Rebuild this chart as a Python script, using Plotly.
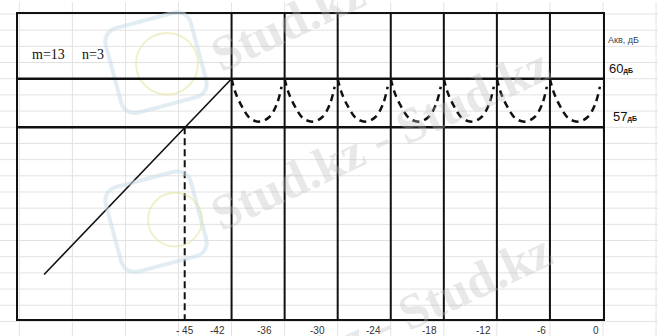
import math
import plotly.graph_objects as go

# ---------------- data ----------------
x_ticks = [-45, -42, -36, -30, -24, -18, -12, -6, 0]
x_tick_text = ["- 45", "-42", "-36", "-30", "-24", "-18", "-12", "-6", "0"]
x_tick_pos = [-47.3, -42, -36, -30, -24, -18, -12, -6, 0]   # where each label sits on the axis
band_lines = [-42, -36, -30, -24, -18, -12, -6]               # vertical sections
level_top = 60
level_bottom = 57
ramp_x = [-63.2, -42]
ramp_y = [47.9, 60]
marker_x = -47.3
arc_offsets = [0, 0.4, 1.15, 2.1, 3.2, 4.3, 5.1, 5.65]
arc_levels = [60, 59.2, 58.3, 57.55, 57.35, 57.65, 58.4, 59.5]
params_text = ["m=13", "n=3"]
axis_title = "Акв, дБ"

X_RANGE = [-66.15, 0]
Y_RANGE = [45.15, 64.0]
L, R, T, B = 18, 55, 12, 17
W, H = 658, 336
PW, PH = W - L - R, H - T - B


def px_x(p):
    return (p - L) / PW


def px_y(p):
    return (H - B - p) / PH


def dx(v):
    return (v - X_RANGE[0]) / (X_RANGE[1] - X_RANGE[0])


def dy(v):
    return (v - Y_RANGE[0]) / (Y_RANGE[1] - Y_RANGE[0])


def rounded_square_path(cx, cy, half, rad, angle_deg):
    pts = []
    corners = [(half - rad, half - rad, 0), (-(half - rad), half - rad, 90),
               (-(half - rad), -(half - rad), 180), (half - rad, -(half - rad), 270)]
    for ccx, ccy, a0 in corners:
        for k in range(7):
            a = math.radians(a0 + k * 15)
            pts.append((ccx + rad * math.cos(a), ccy + rad * math.sin(a)))
    t = math.radians(angle_deg)
    out = []
    for x, y in pts:
        rx = cx + x * math.cos(t) - y * math.sin(t)
        ry = cy + x * math.sin(t) + y * math.cos(t)
        out.append(f"{px_x(rx):.5f},{px_y(ry):.5f}")
    return "M " + " L ".join(out) + " Z"


fig = go.Figure()

# ramp
fig.add_trace(go.Scatter(x=ramp_x, y=ramp_y, mode="lines",
                         line=dict(color="#111", width=1.6), hoverinfo="skip"))

# arcs between vertical lines
ax, ay = [], []
for s in band_lines:
    for o, v in zip(arc_offsets, arc_levels):
        ax.append(s + o)
        ay.append(v)
    ax.append(None)
    ay.append(None)
fig.add_trace(go.Scatter(x=ax, y=ay, mode="lines", connectgaps=False,
                         line=dict(color="#111", width=2.5, dash="7px,5px", shape="spline", smoothing=1.0),
                         hoverinfo="skip"))

# dashed marker line
fig.add_trace(go.Scatter(x=[marker_x, marker_x], y=[level_bottom, Y_RANGE[0]], mode="lines",
                         line=dict(color="#111", width=2, dash="7px,4px"), hoverinfo="skip"))

shapes = []
# faint spreadsheet grid (full image)
for v in range(44, 66):
    shapes.append(dict(type="line", xref="paper", yref="paper", x0=px_x(0), x1=px_x(W),
                       y0=dy(v), y1=dy(v), line=dict(color="#e2e2e2", width=1), layer="below"))
for v in range(-72, 12, 6):
    shapes.append(dict(type="line", xref="paper", yref="paper", x0=dx(v), x1=dx(v),
                       y0=px_y(H), y1=px_y(0), line=dict(color="#e2e2e2", width=1), layer="below"))

# faint logo watermarks
for (scx, scy), (ccx, ccy, cr) in [((156, 61), (167, 62, 31)), ((156, 221), (175, 219, 27))]:
    shapes.append(dict(type="path", xref="paper", yref="paper",
                       path=rounded_square_path(scx, scy, 44, 14, -15),
                       line=dict(color="rgba(200,222,232,0.55)", width=4), layer="above"))
    shapes.append(dict(type="circle", xref="paper", yref="paper",
                       x0=px_x(ccx - cr), x1=px_x(ccx + cr), y0=px_y(ccy + cr), y1=px_y(ccy - cr),
                       line=dict(color="rgba(225,228,150,0.5)", width=2), layer="above"))

# vertical section lines
for v in band_lines:
    shapes.append(dict(type="line", xref="x", yref="paper", x0=v, x1=v, y0=0, y1=1,
                       line=dict(color="#111", width=2)))
# horizontal levels
for v in (level_top, level_bottom):
    shapes.append(dict(type="line", xref="paper", yref="y", x0=0, x1=1, y0=v, y1=v,
                       line=dict(color="#111", width=2.5)))

annotations = []
# tick labels
shifts = [0, -5, -11, -11, -8, -5, -4, -2, -2]
for i, (p, t) in enumerate(zip(x_tick_pos, x_tick_text)):
    annotations.append(dict(x=p, y=0, xref="x", yref="paper", text=t, showarrow=False,
                            xanchor="center" if i == 0 else "right", yanchor="middle",
                            xshift=shifts[i], yshift=-11,
                            font=dict(family="Liberation Sans Narrow, Liberation Sans", size=10, color="#333")))

# parameters text
annotations.append(dict(x=px_x(30), y=px_y(53), xref="paper", yref="paper", text=params_text[0],
                        showarrow=False, xanchor="left", yanchor="middle",
                        font=dict(family="Liberation Serif", size=14, color="#111")))
annotations.append(dict(x=px_x(80), y=px_y(53), xref="paper", yref="paper", text=params_text[1],
                        showarrow=False, xanchor="left", yanchor="middle",
                        font=dict(family="Liberation Serif", size=14, color="#111")))

# right-side labels
annotations.append(dict(x=px_x(606), y=px_y(38), xref="paper", yref="paper", text=axis_title,
                        showarrow=False, xanchor="left", yanchor="middle",
                        font=dict(family="Liberation Sans", size=9, color="#3a3f55")))
annotations.append(dict(x=px_x(607), y=dy(level_top), xref="paper", yref="paper",
                        text=f"{level_top}<b><span style='font-size:7px'>дБ</span></b>",
                        showarrow=False, xanchor="left", yanchor="bottom", yshift=1,
                        font=dict(family="Liberation Sans Narrow, Liberation Sans", size=13, color="#111")))
annotations.append(dict(x=px_x(611), y=dy(level_bottom), xref="paper", yref="paper",
                        text=f"{level_bottom}<b><span style='font-size:7px'>дБ</span></b>",
                        showarrow=False, xanchor="left", yanchor="bottom", yshift=1,
                        font=dict(family="Liberation Sans Narrow, Liberation Sans", size=13, color="#111")))

# watermarks
for cx, cy in [(380, -22), (380, 138), (382, 325)]:
    annotations.append(dict(x=px_x(cx), y=px_y(cy), xref="paper", yref="paper", text="<b>Stud.kz - Stud.kz</b>",
                            showarrow=False, textangle=-25, xanchor="center", yanchor="middle",
                            font=dict(family="Liberation Serif", size=50, color="rgba(190,190,190,0.35)")))

fig.update_layout(
    width=W, height=H,
    margin=dict(l=L, r=R, t=T, b=B),
    paper_bgcolor="white", plot_bgcolor="white",
    showlegend=False,
    shapes=shapes, annotations=annotations,
    xaxis=dict(range=X_RANGE, showgrid=False, zeroline=False, showticklabels=False, ticks="",
               showline=True, mirror=True, linecolor="#111", linewidth=2),
    yaxis=dict(range=Y_RANGE, showgrid=False, zeroline=False, showticklabels=False, ticks="",
               showline=True, mirror=True, linecolor="#111", linewidth=2),
)

fig.write_html("out.html")
